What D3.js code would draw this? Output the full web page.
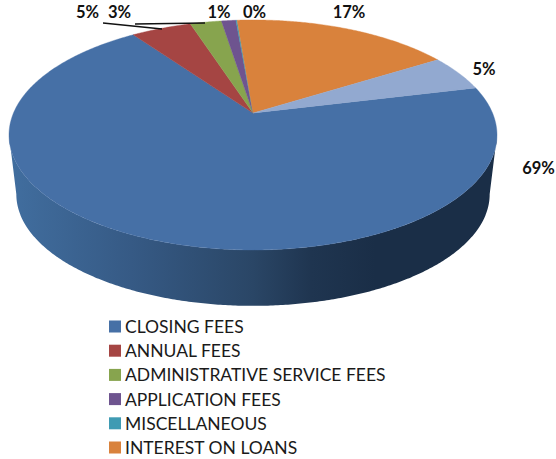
<!DOCTYPE html>
<html><head><meta charset="utf-8">
<script src="https://cdnjs.cloudflare.com/ajax/libs/d3/7.8.5/d3.min.js"></script>
<style>html,body{margin:0;padding:0;background:#fff}svg{display:block}</style>
</head><body><svg id="c" width="556" height="459"></svg>
<script>
const categories=["CLOSING FEES","ANNUAL FEES","ADMINISTRATIVE SERVICE FEES","APPLICATION FEES","MISCELLANEOUS","INTEREST ON LOANS",""];
const values=[69.0,4.8,2.5,1.15,0.1,17.4,5.05];
const percentLabels=["69%","5%","3%","1%","0%","17%","5%"];
const colors=["#4670a6","#a54543","#87a44e","#6e548f","#3f9bb3","#d9823c","#92a9d0"];
const legendCount=6;

const svg=d3.select("#c");
const FONT="Lato, Carlito, 'Open Sans', sans-serif";
const start=76.3*Math.PI/180;
const pie=d3.pie().sort(null).value(d=>d).startAngle(start).endAngle(start+2*Math.PI);
const arcs=pie(values);

// perspective projection of a tilted disc
const cx=253,cy=113,A=239.5,B=110.8,k=0.191;
function proj(t,s=1,dy=0){
  const u=Math.sin(t),v=Math.cos(t),w=1+k*v;
  return [cx+s*A*u/w, cy+dy-s*B*v/w];
}
const line=d3.line();
const step=Math.PI/180/2;
const sample=(a,b)=>{const n=Math.max(2,Math.ceil((b-a)/step));return d3.range(n+1).map(i=>a+(b-a)*i/n);};

// side wall
const defs=svg.append("defs");
const grad=defs.append("linearGradient").attr("id","side").attr("gradientUnits","userSpaceOnUse")
  .attr("x1",9).attr("x2",497).attr("y1",0).attr("y2",0);
[[0,"#416e9f"],[0.25,"#365a85"],[0.5,"#2a4666"],[0.62,"#1f3550"],[0.75,"#1a2e47"],[1,"#1a2e47"]]
  .forEach(([o,c])=>grad.append("stop").attr("offset",o).attr("stop-color",c));
const tR=Math.acos(-k), tL=2*Math.PI-tR;
const angs=sample(tR,tL);
const sideS=0.97, sideDy=60;
const pts=angs.map(t=>proj(t)).concat(angs.slice().reverse().map(t=>proj(t,sideS,sideDy)));
svg.append("path").attr("d",line(pts)+"Z").attr("fill","url(#side)");

// top wedges
svg.selectAll("path.w").data(arcs).join("path").attr("class","w")
  .attr("fill",(d,i)=>colors[i]).attr("stroke",(d,i)=>colors[i]).attr("stroke-width",0.4)
  .attr("d",d=>line([[cx,cy]].concat(sample(d.startAngle,d.endAngle).map(t=>proj(t))))+"Z");

// leader lines
const leaders=[[[103,23],[162,29]],[[135,24],[205,23]]];
svg.selectAll("path.l").data(leaders).join("path").attr("class","l")
  .attr("d",d=>line(d)).attr("fill","none").attr("stroke","#111").attr("stroke-width",1.3);

// data labels
const labelPos=[[538.5,174],[484,75],[119.5,18],[219,18],[254.5,18],[349,18],[87.5,18]];
const labelIdx=[0,6,2,3,4,5,1];
svg.selectAll("text.p").data(labelIdx).join("text").attr("class","p")
  .attr("x",(d,i)=>labelPos[i][0]).attr("y",(d,i)=>labelPos[i][1])
  .attr("text-anchor","middle").attr("font-family",FONT).attr("font-weight",700)
  .attr("font-size",16.5).attr("fill","#111").text(d=>percentLabels[d]);

// legend
const ly=d3.scalePoint().domain(d3.range(legendCount)).range([326.5,447.5]);
const lg=svg.selectAll("g.lg").data(d3.range(legendCount)).join("g").attr("class","lg")
  .attr("transform",i=>`translate(109,${ly(i)})`);
lg.append("rect").attr("x",0).attr("y",-6).attr("width",12).attr("height",12).attr("fill",i=>colors[i]);
lg.append("text").attr("x",16).attr("y",6.5).attr("font-family",FONT).attr("font-size",17.5)
  .attr("fill","#1a1a1a").text(i=>categories[i]);
</script></body></html>
